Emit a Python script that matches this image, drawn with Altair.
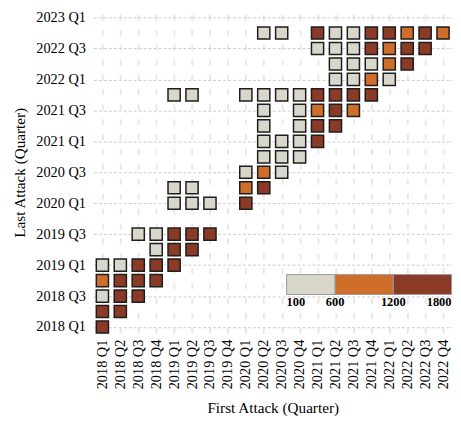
import altair as alt
import pandas as pd

quarters_x = [f"{y} Q{q}" for y in range(2018, 2023) for q in range(1, 5)]
quarters_y = quarters_x + ["2023 Q1"]
y_tick_labels = ["2018 Q1", "2018 Q3", "2019 Q1", "2019 Q3", "2020 Q1", "2020 Q3",
                 "2021 Q1", "2021 Q3", "2022 Q1", "2022 Q3", "2023 Q1"]

first_attack = [
    "2020 Q2", "2020 Q3", "2021 Q1", "2021 Q2", "2021 Q3", "2021 Q4", "2022 Q1", "2022 Q2", "2022 Q3", "2022 Q4",
    "2021 Q1", "2021 Q2", "2021 Q3", "2021 Q4", "2022 Q1", "2022 Q2", "2022 Q3",
    "2021 Q2", "2021 Q3", "2021 Q4", "2022 Q1", "2022 Q2",
    "2021 Q2", "2021 Q3", "2021 Q4", "2022 Q1",
    "2019 Q1", "2019 Q2", "2020 Q1", "2020 Q2", "2020 Q3", "2020 Q4", "2021 Q1", "2021 Q2", "2021 Q3", "2021 Q4",
    "2020 Q2", "2020 Q4", "2021 Q1", "2021 Q2", "2021 Q3",
    "2020 Q2", "2020 Q4", "2021 Q1", "2021 Q2",
    "2020 Q2", "2020 Q3", "2020 Q4", "2021 Q1",
    "2020 Q2", "2020 Q3", "2020 Q4",
    "2020 Q1", "2020 Q2", "2020 Q3",
    "2019 Q1", "2019 Q2", "2020 Q1", "2020 Q2",
    "2019 Q1", "2019 Q2", "2019 Q3", "2020 Q1",
    "2018 Q3", "2018 Q4", "2019 Q1", "2019 Q2", "2019 Q3",
    "2018 Q4", "2019 Q1", "2019 Q2",
    "2018 Q1", "2018 Q2", "2018 Q3", "2018 Q4", "2019 Q1",
    "2018 Q1", "2018 Q2", "2018 Q3", "2018 Q4",
    "2018 Q1", "2018 Q2", "2018 Q3",
    "2018 Q1", "2018 Q2",
    "2018 Q1",
]
last_attack = (
    ["2022 Q4"] * 10 + ["2022 Q3"] * 7 + ["2022 Q2"] * 5 + ["2022 Q1"] * 4 +
    ["2021 Q4"] * 10 + ["2021 Q3"] * 5 + ["2021 Q2"] * 4 + ["2021 Q1"] * 4 +
    ["2020 Q4"] * 3 + ["2020 Q3"] * 3 + ["2020 Q2"] * 4 + ["2020 Q1"] * 4 +
    ["2019 Q3"] * 5 + ["2019 Q2"] * 3 + ["2019 Q1"] * 5 + ["2018 Q4"] * 4 +
    ["2018 Q3"] * 3 + ["2018 Q2"] * 2 + ["2018 Q1"] * 1
)
attacks = [
    320, 280, 1450, 410, 350, 1380, 1520, 880, 1610, 950,
    260, 390, 440, 1330, 920, 1470, 1550,
    300, 360, 420, 870, 1400,
    240, 310, 1010, 450,
    210, 230, 180, 260, 340, 290, 1300, 1420, 1500, 1360,
    270, 330, 760, 1290, 840,
    250, 380, 1350, 1440,
    220, 300, 410, 1370,
    190, 280, 360,
    350, 720, 400,
    260, 310, 980, 1310,
    200, 240, 170, 1260,
    230, 390, 1420, 1510, 1340,
    310, 1480, 1390,
    280, 330, 1560, 1440, 1320,
    1050, 1470, 1530, 1380,
    260, 1410, 1350,
    1620, 1500,
    1580,
]

df = pd.DataFrame({"first": first_attack, "last": last_attack, "attacks": attacks})

bin_edges = [100, 600, 1200, 1800]
legend_values = [100, 100, 600, 1200, 1800]
colors = ["#d9d7cb", "#cf6d2b", "#8b3a26"]

font = "Liberation Serif"

chart = alt.Chart(df).mark_square(
    size=150, filled=True, stroke="#1e1e1e", strokeWidth=1.5, opacity=1
).encode(
    x=alt.X("first:O", scale=alt.Scale(type="point", domain=quarters_x, padding=0.5),
            axis=alt.Axis(title="First Attack (Quarter)", labelAngle=-90, grid=True,
                          gridColor="#e8e8e8", gridWidth=2, gridDash=[6, 9],
                          domain=False, ticks=False, labelPadding=6, titlePadding=12)),
    y=alt.Y("last:O", scale=alt.Scale(type="point", domain=quarters_y[::-1], padding=0.4),
            axis=alt.Axis(title="Last Attack (Quarter)", values=y_tick_labels, grid=True,
                          gridColor="#cccccc", gridWidth=1, gridDash=[3, 2],
                          domain=False, ticks=False, labelPadding=8, titlePadding=8)),
    color=alt.Color("attacks:O",
                    scale=alt.Scale(type="bin-ordinal", domain=bin_edges, range=colors),
                    legend=alt.Legend(title=None, type="gradient", orient="none", direction="horizontal",
                                      legendX=194.5, legendY=265, gradientLength=166,
                                      gradientThickness=20, gradientStrokeColor="#999999",
                                      gradientStrokeWidth=1, labelFont=font, labelFontSize=12.5,
                                      labelFontWeight="bold", labelColor="#000000",
                                      values=legend_values, format="d", labelOverlap=False)),
).properties(
    width=361, height=324, padding={"left": 5, "top": 0, "right": 0, "bottom": 0}
).configure_axis(
    labelFont=font, labelFontSize=14.4, labelColor="#000000",
    titleFont=font, titleFontSize=15.3, titleFontWeight="normal", titleColor="#000000",
).configure_view(stroke=None)

chart.save("out.html", embed_options={"renderer": "svg", "actions": False})
